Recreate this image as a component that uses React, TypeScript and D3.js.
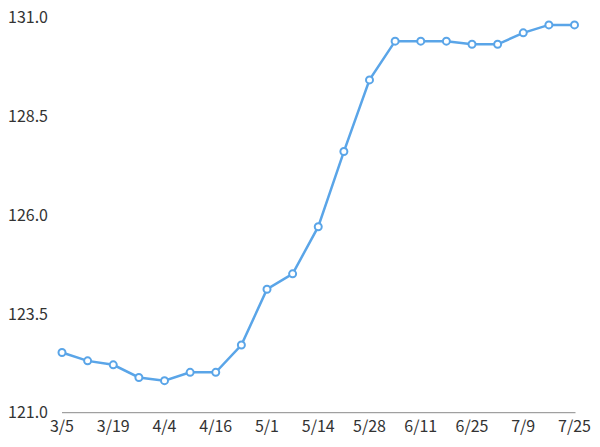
import React from "react";
import * as d3 from "d3";

const categories = ["3/5","3/12","3/19","3/26","4/4","4/9","4/16","4/23","5/1","5/7","5/14","5/21","5/28","6/4","6/11","6/18","6/25","7/2","7/9","7/16","7/25"];
const values = [122.52,122.31,122.21,121.89,121.81,122.02,122.02,122.71,124.12,124.51,125.70,127.60,129.41,130.39,130.39,130.39,130.31,130.31,130.60,130.80,130.80];
const yTicks = [121.0, 123.5, 126.0, 128.5, 131.0];
const xLabelIdx = [0,2,4,6,8,10,12,14,16,18,20];

const W = 600, H = 447;
const FONT = "'Noto Sans CJK JP', 'Noto Sans', sans-serif";

export default function App() {
  const x = d3.scalePoint<string>().domain(categories).range([62, 574.5]);
  const y = d3.scaleLinear().domain([121, 131]).range([412.7, 17]);
  const line = d3.line<number>().x((_, i) => x(categories[i])!).y(d => y(d));
  return (
    <svg width={W} height={H} style={{ position: "absolute", left: 0, top: 0, background: "#fff" }}>
      <line x1={x(categories[0])} x2={x(categories[categories.length - 1])! + 1} y1={y(121)} y2={y(121)} stroke="#8a8a8a" strokeWidth={1} />
      {yTicks.map(t => (
        <text key={t} x={48} y={y(t)} dy="0.36em" textAnchor="end" fontFamily={FONT} fontSize={16} fill="#333">{t.toFixed(1)}</text>
      ))}
      {xLabelIdx.map(i => (
        <text key={i} x={x(categories[i])} y={432} textAnchor="middle" fontFamily={FONT} fontSize={16} fill="#333">{categories[i]}</text>
      ))}
      <path d={line(values)!} fill="none" stroke="#5aa5e8" strokeWidth={2.5} />
      {values.map((v, i) => (
        <circle key={i} cx={x(categories[i])} cy={y(v)} r={3.5} fill="#fff" stroke="#5aa5e8" strokeWidth={2} />
      ))}
    </svg>
  );
}
